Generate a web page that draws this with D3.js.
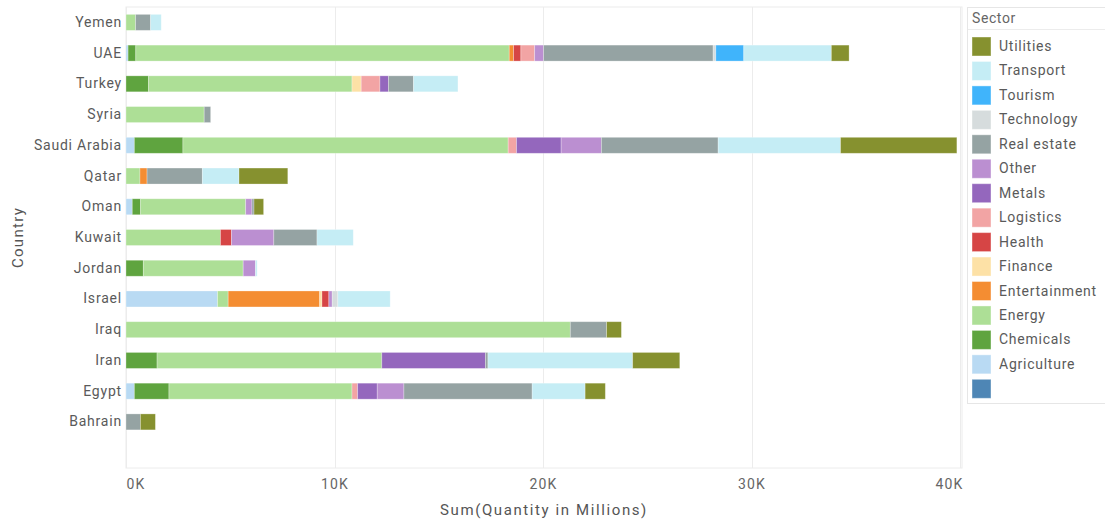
<!DOCTYPE html>
<html>
<head>
<meta charset="utf-8">
<script src="https://cdn.jsdelivr.net/npm/d3@7"></script>
<style>
  html, body { margin: 0; padding: 0; background: #fff; }
  svg { display: block; font-family: Roboto, "Noto Sans", sans-serif; }
</style>
</head>
<body>
<svg id="chart" width="1105" height="521"></svg>
<script>
// ---- data (values in millions) ----
const countries = ["Yemen","UAE","Turkey","Syria","Saudi Arabia","Qatar","Oman","Kuwait","Jordan","Israel","Iraq","Iran","Egypt","Bahrain",""];
const sectors = ["","Agriculture","Chemicals","Energy","Entertainment","Finance","Health","Logistics","Metals","Other","Real estate","Technology","Tourism","Transport","Utilities"];
const sectorColors = ["#4e86b5","#b9daf3","#5fa43f","#addf96","#f48d32","#fde1a6","#d64545","#f2a4a4","#9467bd","#bb8fd1","#95a3a3","#d6dcdd","#40b4fb","#c5edf5","#86912f"];

const blankSector   = [0,0,0,0,0,0,0,0,0,0,0,0,0,0,0];
const agriculture   = [0,100,0,0,400,0,300,0,0,4390,0,0,400,0,0];
const chemicals     = [0,370,1080,0,2330,0,400,0,830,0,0,1490,1660,0,0];
const energy        = [460,17910,9760,3750,15600,670,5040,4530,4790,510,21310,10780,8780,0,0];
const entertainment = [0,210,0,0,0,340,0,0,0,4390,0,0,0,0,0];
const finance       = [0,0,440,0,0,0,0,0,0,110,0,0,0,0,0];
const health        = [0,350,0,0,0,0,0,530,0,330,0,0,0,0,0];
const logistics     = [0,660,900,0,400,0,0,0,0,0,0,0,270,0,0];
const metals        = [0,0,410,0,2140,0,0,0,0,0,0,4970,940,0,0];
const other         = [0,430,0,0,1930,0,300,2030,590,160,0,0,1280,0,0];
const realEstate    = [720,8130,1200,310,5600,2650,100,2070,0,0,1740,120,6150,690,0];
const technology    = [0,130,0,0,0,0,0,0,0,270,0,0,0,0,0];
const tourism       = [0,1340,0,0,0,0,0,0,0,0,0,0,0,0,0];
const transport     = [510,4200,2130,0,5870,1760,0,1740,80,2510,0,6940,2540,0,0];
const utilities     = [0,850,0,0,5580,2340,460,0,0,0,710,2260,970,720,0];

const xTicks = [0,10000,20000,30000,40000];
const xTitle = "Sum(Quantity in Millions)";
const yTitle = "Country";
const legendTitle = "Sector";

const seriesValues = [blankSector,agriculture,chemicals,energy,entertainment,finance,health,logistics,metals,other,realEstate,technology,tourism,transport,utilities];

// ---- build table ----
const table = countries.map((c, i) => {
  const row = { country: c };
  sectors.forEach((s, j) => { row["k" + j] = seriesValues[j][i]; });
  return row;
});
const keys = sectors.map((s, j) => "k" + j);
const stacked = d3.stack().keys(keys)(table);

const svg = d3.select("#chart");
const plot = { left: 126, right: 962, top: 7, bottom: 468 };

const x = d3.scaleLinear().domain([0, 40000]).range([plot.left, plot.right - 2]);
const y = d3.scaleBand().domain(countries).range([plot.top, plot.bottom])
  .paddingInner(0.48).paddingOuter(0.24);
const color = d3.scaleOrdinal().domain(keys).range(sectorColors);

// plot frame
svg.append("rect")
  .attr("x", plot.left).attr("y", plot.top)
  .attr("width", plot.right - plot.left).attr("height", plot.bottom - plot.top)
  .attr("fill", "none").attr("stroke", "#ececec").attr("stroke-width", 1);

// gridlines
svg.append("g").selectAll("line").data(xTicks).join("line")
  .attr("x1", d => Math.round(x(d)) + 0.5).attr("x2", d => Math.round(x(d)) + 0.5)
  .attr("y1", plot.top).attr("y2", plot.bottom)
  .attr("stroke", "#ececec").attr("stroke-width", 1);

// bars
svg.append("g").selectAll("g").data(stacked).join("g")
  .attr("fill", d => color(d.key))
  .selectAll("rect").data(d => d.filter(p => p[1] - p[0] > 0)).join("rect")
  .attr("x", p => x(p[0]))
  .attr("width", p => x(p[1]) - x(p[0]))
  .attr("y", p => y(p.data.country))
  .attr("height", y.bandwidth())
  .attr("stroke", "#ffffff").attr("stroke-opacity", 0.35).attr("stroke-width", 0.8);

// x axis
const xAxis = d3.axisBottom(x).tickValues(xTicks).tickSize(0).tickPadding(10)
  .tickFormat(d => (d / 1000) + "K");
const gx = svg.append("g").attr("transform", `translate(0,${plot.bottom + 1})`).call(xAxis);
gx.select(".domain").remove();
gx.selectAll("text")
  .attr("font-size", 14).attr("fill", "#666").attr("font-family", "Roboto, sans-serif")
  .attr("letter-spacing", 1.2)
  .attr("text-anchor", (d, i) => i === 0 ? "start" : (i === xTicks.length - 1 ? "end" : "middle"))
  .attr("dx", (d, i) => i === xTicks.length - 1 ? "3" : "0");

// y axis
const yAxis = d3.axisLeft(y).tickSize(0).tickPadding(4);
const gy = svg.append("g").attr("transform", `translate(${plot.left},0)`).call(yAxis);
gy.select(".domain").remove();
gy.selectAll("text")
  .attr("font-size", 14).attr("fill", "#5a5a5a").attr("font-family", "Roboto, sans-serif")
  .attr("letter-spacing", 0.8);

// axis titles
svg.append("text")
  .attr("x", (plot.left + plot.right) / 2).attr("y", 515)
  .attr("text-anchor", "middle").attr("font-size", 15).attr("fill", "#555")
  .attr("letter-spacing", 1.6)
  .text(xTitle);
svg.append("text")
  .attr("transform", `translate(23,${(plot.top + plot.bottom) / 2}) rotate(-90)`)
  .attr("text-anchor", "middle").attr("font-size", 15).attr("fill", "#555")
  .attr("letter-spacing", 1.3)
  .text(yTitle);

// legend
const lg = svg.append("g");
lg.append("rect").attr("x", 967.5).attr("y", 7.5).attr("width", 150).attr("height", 396)
  .attr("fill", "#fff").attr("stroke", "#e6e6e6");
lg.append("line").attr("x1", 968).attr("x2", 1105).attr("y1", 29.5).attr("y2", 29.5)
  .attr("stroke", "#ececec");
lg.append("text").attr("x", 972).attr("y", 23).attr("font-size", 14).attr("fill", "#666")
  .attr("letter-spacing", 0.6)
  .text(legendTitle);
const legendOrder = keys.slice().reverse();
const items = lg.selectAll("g.item").data(legendOrder).join("g").attr("class", "item")
  .attr("transform", (d, i) => `translate(972,${37 + i * 24.45})`);
items.append("rect").attr("width", 19).attr("height", 19)
  .attr("fill", d => color(d)).attr("stroke", "#fff").attr("stroke-opacity", 0.4);
items.append("text").attr("x", 27).attr("y", 14).attr("font-size", 14).attr("fill", "#5a5a5a")
  .attr("letter-spacing", 0.75)
  .text(d => sectors[keys.indexOf(d)]);
</script>
</body>
</html>
